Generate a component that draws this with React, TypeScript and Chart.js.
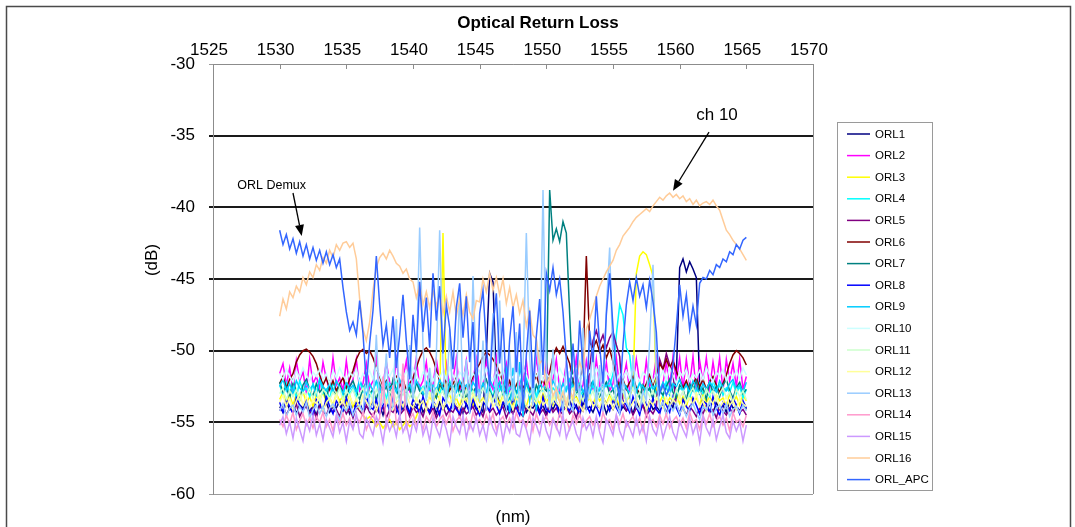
import React, { useEffect, useRef } from "react";
import { Chart, registerables } from "chart.js";

Chart.register(...registerables);

const FONT = "'Liberation Sans', Arial, Helvetica, sans-serif";

// wavelength grid (nm)
const wavelengths = [
  1530, 1530.25, 1530.5, 1530.75, 1531, 1531.25, 1531.5, 1531.75, 1532, 1532.25, 1532.5, 1532.75, 1533, 1533.25, 1533.5, 1533.75, 1534, 1534.25, 1534.5, 1534.75,
  1535, 1535.25, 1535.5, 1535.75, 1536, 1536.25, 1536.5, 1536.75, 1537, 1537.25, 1537.5, 1537.75, 1538, 1538.25, 1538.5, 1538.75, 1539, 1539.25, 1539.5, 1539.75,
  1540, 1540.25, 1540.5, 1540.75, 1541, 1541.25, 1541.5, 1541.75, 1542, 1542.25, 1542.5, 1542.75, 1543, 1543.25, 1543.5, 1543.75, 1544, 1544.25, 1544.5, 1544.75,
  1545, 1545.25, 1545.5, 1545.75, 1546, 1546.25, 1546.5, 1546.75, 1547, 1547.25, 1547.5, 1547.75, 1548, 1548.25, 1548.5, 1548.75, 1549, 1549.25, 1549.5, 1549.75,
  1550, 1550.25, 1550.5, 1550.75, 1551, 1551.25, 1551.5, 1551.75, 1552, 1552.25, 1552.5, 1552.75, 1553, 1553.25, 1553.5, 1553.75, 1554, 1554.25, 1554.5, 1554.75,
  1555, 1555.25, 1555.5, 1555.75, 1556, 1556.25, 1556.5, 1556.75, 1557, 1557.25, 1557.5, 1557.75, 1558, 1558.25, 1558.5, 1558.75, 1559, 1559.25, 1559.5, 1559.75,
  1560, 1560.25, 1560.5, 1560.75, 1561, 1561.25, 1561.5, 1561.75, 1562, 1562.25, 1562.5, 1562.75, 1563, 1563.25, 1563.5, 1563.75, 1564, 1564.25, 1564.5, 1564.75,
  1565,
];

const orl1 = [
  -53.9, -54.3, -53.6, -54.1, -53.7, -54.4, -53.8, -54.0, -53.5, -54.2, -53.9, -54.5, -53.7, -54.1, -53.6, -54.3, -53.9, -54.0, -53.5, -54.2,
  -53.8, -54.4, -53.7, -54.0, -53.6, -54.3, -53.9, -54.1, -53.5, -54.2, -53.8, -54.5, -53.6, -54.0, -53.9, -54.3, -53.7, -54.1, -53.6, -54.4,
  -53.8, -54.0, -53.5, -54.3, -53.9, -54.2, -53.7, -54.4, -53.6, -54.1, -53.8, -54.3, -53.5, -54.0, -53.9, -54.4, -53.7, -54.2, -53.6, -54.1,
  -53.9, -54.3, -50.2, -44.6, -45.2, -52.1, -54.0, -53.6, -54.2, -53.8, -54.4, -53.7, -54.1, -53.5, -54.3, -53.9, -54.0, -53.6, -54.2, -53.8,
  -54.4, -53.7, -54.1, -53.6, -54.3, -53.9, -54.0, -53.5, -54.2, -53.8, -54.5, -53.6, -54.1, -53.9, -54.3, -53.7, -54.0, -53.6, -54.4, -53.8,
  -54.1, -53.5, -54.3, -53.9, -54.2, -53.7, -54.4, -53.6, -54.0, -53.8, -54.3, -53.5, -54.1, -53.9, -54.2, -53.7, -54.4, -53.6, -54.0, -51.8,
  -44.2, -43.6, -44.5, -43.8, -44.3, -44.9, -52.6, -53.9, -54.2, -53.7, -54.4, -53.6, -54.1, -53.8, -54.3, -53.5, -54.0, -53.9, -54.2, -53.7,
  -54.1,
];

const orl2 = [
  -51.6, -50.9, -52.4, -51.2, -52.8, -50.7, -52.1, -51.5, -52.9, -50.6, -52.3, -51.8, -52.6, -50.8, -52.0, -52.7, -50.5, -52.4, -51.9, -52.8,
  -50.7, -52.5, -52.0, -50.6, -52.8, -52.3, -50.9, -52.6, -52.1, -50.5, -52.9, -52.4, -50.8, -52.2, -52.7, -50.6, -52.5, -52.0, -50.7, -52.8,
  -52.3, -50.5, -52.6, -52.1, -50.8, -52.9, -52.4, -50.6, -52.2, -52.7, -50.9, -52.5, -52.0, -50.5, -52.8, -52.3, -50.7, -52.6, -52.1, -50.6,
  -52.9, -52.4, -50.8, -52.2, -52.7, -50.5, -52.5, -52.0, -50.9, -52.8, -52.3, -50.6, -52.6, -52.1, -50.7, -52.9, -52.4, -50.5, -52.2, -52.7,
  -50.8, -52.5, -52.0, -50.6, -52.8, -52.3, -50.9, -52.6, -52.1, -50.5, -52.9, -52.4, -50.7, -52.2, -52.7, -50.6, -52.5, -52.0, -50.8, -52.8,
  -52.3, -50.5, -52.6, -52.1, -50.9, -52.9, -52.4, -50.6, -52.2, -52.7, -50.7, -52.5, -52.0, -50.5, -52.8, -52.3, -50.8, -52.6, -50.4, -52.1,
  -50.5, -52.7, -50.6, -52.4, -50.4, -52.9, -50.7, -52.2, -50.5, -52.6, -50.8, -52.3, -50.5, -52.8, -50.6, -52.1, -50.9, -52.5, -50.6, -52.7,
  -51.8,
];

const orl3 = [
  -53.4, -52.9, -53.6, -53.1, -53.8, -53.0, -53.5, -52.8, -53.7, -53.2, -53.9, -53.1, -53.4, -52.9, -53.6, -53.3, -53.8, -53.0, -53.5, -53.2,
  -53.7, -53.1, -53.9, -53.4, -54.2, -54.5, -54.8, -54.6, -54.9, -55.3, -55.0, -55.4, -55.1, -54.8, -55.3, -55.0, -55.5, -55.2, -54.9, -55.3,
  -55.1, -54.6, -54.0, -53.5, -53.8, -53.2, -53.6, -53.0, -53.4, -41.8, -53.4, -53.1, -53.7, -53.3, -53.9, -53.0, -53.5, -53.2, -53.8, -53.1,
  -53.6, -53.3, -53.9, -53.0, -53.5, -53.2, -53.7, -53.1, -53.6, -53.3, -53.8, -53.0, -53.4, -53.2, -53.9, -53.1, -53.5, -53.3, -53.7, -53.0,
  -53.6, -53.2, -53.8, -53.1, -53.5, -53.3, -53.9, -53.0, -53.4, -53.2, -53.7, -53.1, -53.6, -53.3, -53.8, -53.0, -53.5, -53.2, -53.7, -53.1,
  -53.6, -53.3, -53.9, -53.0, -53.5, -53.2, -52.5, -44.6, -43.4, -43.1, -43.3, -44.0, -44.8, -53.0, -53.6, -53.1, -53.8, -53.3, -53.5, -53.0,
  -53.7, -53.2, -53.9, -53.1, -53.5, -53.3, -53.8, -53.0, -53.6, -53.2, -53.7, -53.1, -53.5, -53.3, -53.9, -53.0, -53.6, -53.2, -53.8, -53.1,
  -53.5,
];

const orl4 = [
  -52.4, -53.1, -52.2, -52.9, -52.5, -53.3, -52.1, -52.8, -52.6, -53.2, -52.3, -52.9, -52.0, -53.0, -52.7, -53.4, -52.2, -52.8, -52.5, -53.1,
  -52.3, -53.0, -52.6, -53.3, -52.1, -52.9, -52.4, -53.2, -52.7, -52.2, -53.0, -52.5, -53.4, -52.3, -52.8, -52.0, -53.1, -52.6, -52.9, -52.4,
  -53.2, -52.1, -52.8, -52.5, -53.3, -52.2, -52.9, -52.6, -53.0, -52.3, -53.4, -52.1, -52.7, -52.4, -53.1, -52.5, -52.8, -52.2, -53.2, -52.6,
  -52.9, -52.3, -53.0, -52.5, -53.3, -52.1, -52.8, -52.4, -53.1, -52.6, -52.2, -53.0, -52.7, -53.4, -52.3, -52.9, -52.5, -53.2, -52.1, -52.8,
  -52.4, -53.1, -52.6, -52.9, -52.2, -53.3, -52.5, -52.8, -52.3, -53.0, -52.7, -53.2, -52.1, -52.9, -52.4, -53.1, -52.6, -52.8, -52.3, -52.5,
  -51.6, -48.9, -46.8, -47.5, -49.8, -50.3, -52.4, -52.9, -52.2, -53.1, -52.6, -52.8, -52.3, -53.0, -52.5, -53.2, -52.1, -52.9, -52.4, -53.1,
  -52.6, -52.8, -52.2, -53.3, -52.5, -52.9, -52.3, -53.0, -52.7, -53.2, -52.1, -52.8, -52.4, -53.1, -52.6, -52.9, -52.2, -53.0, -52.5, -53.3,
  -52.7,
];

const orl5 = [
  -54.2, -53.8, -54.5, -54.0, -54.3, -53.7, -54.6, -54.1, -53.9, -54.4, -54.0, -54.7, -53.8, -54.2, -54.5, -53.9, -54.3, -54.1, -54.6, -53.8,
  -54.4, -54.0, -54.7, -53.9, -54.2, -54.5, -53.8, -54.3, -54.6, -54.0, -54.4, -53.9, -54.7, -54.1, -54.3, -53.8, -54.5, -54.2, -54.0, -54.6,
  -53.9, -54.3, -54.1, -54.6, -53.8, -54.4, -54.0, -54.7, -54.2, -53.9, -54.5, -54.1, -54.3, -53.8, -54.6, -54.0, -54.4, -54.2, -53.9, -54.5,
  -54.1, -54.6, -53.8, -54.3, -54.0, -54.5, -54.2, -53.9, -54.7, -54.1, -54.4, -53.8, -54.3, -54.6, -54.0, -54.2, -54.5, -53.9, -54.4, -54.1,
  -54.6, -53.8, -54.3, -54.0, -54.5, -54.2, -53.9, -54.4, -54.1, -54.7, -53.8, -54.2, -53.5, -51.2, -49.3, -48.6, -49.5, -48.9, -49.8, -49.1,
  -48.7, -49.6, -50.4, -53.6, -54.2, -53.9, -54.5, -54.0, -54.3, -53.8, -54.6, -54.1, -54.4, -53.9, -50.6, -51.3, -50.2, -51.0, -51.6, -53.8,
  -54.3, -54.0, -54.5, -53.9, -54.2, -54.6, -54.0, -54.4, -53.8, -54.3, -54.1, -54.7, -53.9, -54.2, -54.5, -54.0, -54.4, -53.8, -54.3, -54.1,
  -54.5,
];

const orl6 = [
  -52.3, -51.8, -52.6, -52.0, -51.6, -50.8, -50.3, -50.0, -49.9, -50.1, -50.4, -50.9, -51.7, -52.4, -51.9, -52.7, -52.1, -52.8, -52.3, -51.9,
  -52.6, -52.0, -51.4, -50.6, -50.1, -49.9, -50.2, -50.0, -50.5, -51.2, -51.8, -52.5, -52.1, -52.7, -52.2, -51.8, -52.5, -52.0, -52.8, -52.3,
  -51.9, -51.2, -50.5, -50.0, -49.8, -50.1, -50.6, -51.3, -52.1, -52.6, -52.0, -52.8, -52.3, -51.9, -52.6, -52.1, -52.8, -52.4, -51.8, -51.3,
  -50.9, -50.4, -50.1, -50.3, -50.6, -51.0, -51.5, -52.2, -52.7, -52.1, -52.9, -52.4, -51.9, -52.6, -52.2, -52.8, -52.3, -51.7, -52.5, -52.0,
  -52.6, -51.5, -50.4, -49.8, -50.2, -49.7, -50.3, -50.9, -52.1, -52.7, -52.2, -51.0, -43.4, -49.4, -49.8, -49.3, -50.1, -49.6, -50.5, -49.9,
  -50.8, -51.9, -52.5, -52.0, -52.7, -52.2, -51.8, -52.6, -53.0, -52.8, -52.3, -51.7, -52.4, -51.6, -50.9, -51.3, -50.6, -51.2, -50.7, -51.4,
  -52.0, -52.6, -52.1, -52.8, -52.3, -51.9, -52.5, -52.0, -52.7, -52.2, -51.8, -52.4, -52.9, -52.3, -51.7, -50.9, -50.3, -50.0, -50.2, -50.5,
  -51.0,
];

const orl7 = [
  -52.2, -52.9, -52.5, -53.3, -52.1, -52.8, -53.4, -52.4, -52.0, -52.7, -53.2, -52.3, -52.9, -52.6, -53.5, -52.2, -52.8, -53.1, -52.4, -52.9,
  -53.3, -52.5, -52.1, -52.8, -53.4, -52.6, -52.2, -53.0, -52.7, -53.5, -52.3, -52.9, -52.5, -53.2, -52.0, -52.7, -53.3, -52.4, -52.9, -52.6,
  -53.4, -52.2, -52.8, -53.1, -52.5, -52.0, -52.9, -53.3, -52.4, -52.7, -53.5, -52.3, -52.8, -52.1, -53.0, -52.6, -53.4, -52.2, -52.9, -52.5,
  -53.2, -52.4, -52.0, -52.8, -53.3, -52.6, -52.2, -53.1, -52.7, -53.5, -52.3, -52.9, -52.5, -53.0, -52.1, -52.8, -53.4, -52.4, -52.9, -52.6,
  -52.8, -38.8, -42.3, -41.5, -42.4, -41.0, -41.8, -47.5, -52.6, -53.1, -52.3, -52.9, -53.4, -52.5, -52.1, -52.8, -53.2, -52.6, -52.2, -53.0,
  -52.7, -53.5, -52.3, -52.9, -52.5, -53.2, -52.0, -52.7, -53.3, -52.4, -52.9, -52.6, -53.4, -52.2, -52.8, -53.1, -52.5, -52.0, -52.9, -53.3,
  -52.4, -52.7, -53.5, -52.3, -52.8, -52.1, -53.0, -52.6, -53.4, -52.2, -52.9, -52.5, -53.2, -52.4, -52.0, -52.8, -53.3, -52.6, -52.2, -53.0,
  -52.7,
];

const orl8 = [
  -53.6, -54.3, -53.4, -53.9, -54.4, -53.3, -53.8, -54.2, -53.5, -54.0, -54.5, -53.4, -53.7, -54.3, -53.2, -53.9, -54.4, -53.5, -53.8, -54.2,
  -53.3, -54.0, -54.5, -53.6, -53.7, -54.3, -53.2, -53.9, -54.1, -53.4, -54.4, -53.8, -53.5, -54.2, -53.3, -54.0, -54.5, -53.6, -53.9, -54.3,
  -53.4, -53.8, -54.4, -53.2, -54.0, -54.3, -53.5, -53.9, -54.5, -53.3, -53.7, -54.2, -53.6, -54.1, -54.4, -53.3, -53.8, -54.3, -53.4, -54.0,
  -54.5, -53.5, -53.9, -54.2, -53.2, -53.8, -54.4, -53.6, -53.7, -54.3, -53.3, -54.0, -54.5, -53.4, -53.9, -54.2, -53.5, -53.8, -54.4, -53.2,
  -54.1, -54.3, -53.4, -53.7, -54.5, -53.3, -53.9, -54.2, -53.5, -54.0, -54.4, -53.2, -53.8, -54.3, -53.6, -53.9, -54.5, -53.3, -53.7, -54.2,
  -53.4, -54.0, -54.4, -53.5, -53.8, -54.3, -53.2, -53.9, -54.5, -53.4, -53.7, -54.2, -53.3, -54.1, -54.4, -53.5, -53.8, -54.3, -53.2, -54.0,
  -54.5, -53.4, -53.9, -54.2, -53.3, -53.8, -54.4, -53.5, -53.7, -54.3, -53.2, -54.0, -54.5, -53.6, -53.9, -54.2, -53.3, -53.8, -54.4, -53.5,
  -54.0,
];

const orl9 = [
  -52.5, -52.0, -52.8, -52.3, -53.0, -52.1, -52.6, -52.9, -52.2, -52.7, -52.4, -53.1, -52.0, -52.5, -52.8, -52.3, -52.9, -52.1, -52.6, -53.0,
  -52.2, -52.7, -52.4, -52.9, -52.0, -52.6, -53.1, -52.3, -52.8, -52.1, -52.5, -53.0, -52.2, -52.7, -52.4, -52.9, -52.0, -52.6, -52.8, -52.3,
  -52.9, -52.1, -52.5, -53.0, -52.2, -52.7, -52.4, -52.8, -52.0, -52.6, -53.1, -52.3, -52.5, -52.9, -52.1, -52.7, -52.4, -53.0, -52.2, -52.6,
  -52.8, -52.3, -52.9, -52.0, -52.5, -52.7, -52.2, -53.0, -51.4, -54.3, -51.2, -53.9, -50.8, -54.6, -51.6, -53.5, -51.9, -54.1, -52.2, -52.7,
  -52.4, -52.9, -52.1, -52.6, -53.0, -52.3, -52.8, -52.0, -52.5, -52.7, -52.2, -52.9, -52.4, -53.1, -52.1, -52.6, -52.8, -52.3, -52.5, -52.0,
  -52.7, -52.4, -52.9, -52.2, -52.6, -53.0, -52.1, -52.8, -52.3, -52.5, -52.9, -52.0, -52.7, -52.4, -52.8, -52.2, -52.6, -53.1, -52.3, -52.5,
  -52.0, -52.8, -52.4, -52.9, -52.1, -52.6, -53.0, -52.3, -52.7, -52.2, -52.5, -52.9, -52.1, -52.6, -52.8, -52.3, -52.0, -52.7, -52.4, -52.9,
  -52.2,
];

const orl10 = [
  -51.6, -52.0, -51.3, -51.8, -52.2, -51.4, -51.9, -51.2, -51.7, -52.1, -51.5, -51.8, -51.3, -52.0, -51.6, -52.3, -51.4, -51.9, -51.2, -51.7,
  -52.1, -51.5, -51.8, -51.3, -52.2, -51.6, -51.9, -51.4, -52.0, -51.2, -51.7, -52.3, -51.5, -51.8, -51.3, -52.1, -51.6, -51.9, -51.4, -52.0,
  -51.2, -51.7, -52.2, -51.5, -51.8, -51.3, -52.1, -51.6, -51.9, -51.4, -52.0, -51.2, -51.7, -52.3, -51.5, -51.8, -51.3, -52.2, -51.6, -51.9,
  -51.4, -52.0, -51.2, -51.7, -52.1, -51.5, -51.8, -51.3, -52.2, -51.6, -51.9, -51.4, -52.0, -51.2, -51.7, -52.3, -51.5, -51.8, -51.3, -52.1,
  -51.6, -51.9, -51.4, -52.0, -51.2, -51.7, -52.2, -51.5, -51.8, -51.3, -52.1, -51.6, -51.9, -51.4, -52.0, -51.2, -51.7, -52.3, -51.5, -51.8,
  -51.3, -52.2, -51.6, -51.9, -51.4, -52.0, -51.2, -51.7, -52.1, -51.5, -51.8, -51.3, -52.2, -51.6, -51.9, -51.4, -52.0, -51.2, -51.7, -52.3,
  -51.5, -51.8, -51.3, -52.1, -51.6, -51.9, -51.4, -52.0, -51.2, -51.7, -52.2, -51.5, -51.8, -51.3, -52.1, -51.6, -51.9, -51.4, -52.0, -51.2,
  -51.7,
];

const orl11 = [
  -53.0, -52.6, -53.4, -52.8, -53.2, -52.7, -53.5, -52.9, -53.1, -52.6, -53.3, -52.8, -53.6, -52.7, -53.0, -53.4, -52.9, -53.2, -52.6, -53.5,
  -52.8, -53.1, -52.7, -53.4, -53.0, -52.6, -53.3, -52.9, -53.5, -52.7, -53.2, -52.8, -53.6, -53.0, -52.6, -53.4, -52.9, -53.1, -52.7, -53.3,
  -52.8, -53.5, -53.0, -52.6, -53.2, -52.9, -53.4, -52.7, -53.1, -52.8, -53.6, -53.0, -52.6, -53.3, -52.9, -53.5, -52.7, -53.2, -52.8, -53.4,
  -53.0, -52.6, -53.1, -52.9, -53.5, -52.7, -53.3, -52.8, -53.6, -53.0, -52.6, -53.2, -52.9, -53.4, -52.7, -53.1, -52.8, -53.5, -53.0, -52.6,
  -53.3, -52.9, -53.6, -52.7, -53.2, -52.8, -53.4, -53.0, -52.6, -53.1, -52.9, -53.5, -52.7, -53.3, -52.8, -53.6, -53.0, -52.6, -53.2, -52.9,
  -53.4, -52.7, -53.1, -52.8, -53.5, -53.0, -52.6, -53.3, -52.9, -53.6, -52.7, -53.2, -52.8, -53.4, -53.0, -52.6, -53.1, -52.9, -53.5, -52.7,
  -53.3, -52.8, -53.6, -53.0, -52.6, -53.2, -52.9, -53.4, -52.7, -53.1, -52.8, -53.5, -53.0, -52.6, -53.3, -52.9, -53.6, -52.7, -53.2, -52.8,
  -53.4,
];

const orl12 = [
  -53.6, -53.1, -53.9, -53.3, -54.1, -53.5, -53.0, -53.8, -53.2, -54.0, -53.4, -53.7, -53.1, -54.2, -53.6, -53.3, -53.9, -53.0, -53.8, -53.5,
  -54.1, -53.2, -53.7, -53.4, -54.0, -53.1, -53.6, -53.9, -53.3, -54.2, -53.5, -53.0, -53.8, -53.2, -54.1, -53.6, -53.4, -53.9, -53.1, -53.7,
  -54.0, -53.3, -53.8, -53.5, -54.2, -53.0, -53.6, -53.9, -53.2, -54.1, -53.4, -53.7, -53.1, -53.8, -54.0, -53.5, -53.3, -53.9, -53.0, -53.6,
  -54.2, -53.4, -53.7, -53.1, -53.9, -53.6, -54.0, -53.2, -53.8, -53.5, -54.1, -53.3, -53.6, -53.0, -53.9, -54.2, -53.4, -53.7, -53.1, -53.8,
  -53.5, -54.0, -53.2, -53.6, -53.9, -53.3, -54.1, -53.0, -53.7, -53.4, -53.8, -54.2, -53.5, -53.1, -53.9, -53.6, -54.0, -53.2, -53.8, -53.3,
  -54.1, -53.5, -53.0, -53.7, -53.4, -54.0, -53.6, -53.2, -53.9, -53.1, -54.2, -53.5, -53.8, -53.3, -53.6, -54.0, -53.2, -53.9, -53.4, -53.7,
  -53.1, -54.1, -53.6, -53.3, -53.8, -53.0, -53.9, -53.5, -54.2, -53.4, -53.7, -53.1, -54.0, -53.6, -53.2, -53.8, -53.5, -54.1, -53.3, -53.7,
  -53.9,
];

const orl13 = [
  -54.2, -53.7, -54.6, -54.0, -53.8, -54.5, -53.9, -54.3, -53.6, -54.7, -54.1, -53.8, -54.4, -53.9, -54.6, -54.0, -53.7, -54.3, -54.8, -53.9,
  -54.2, -53.6, -54.5, -54.0, -53.8, -54.4, -51.5, -54.1, -53.7, -48.9, -54.0, -53.6, -50.2, -54.3, -53.9, -47.8, -54.5, -52.1, -53.8, -49.6,
  -53.4, -50.8, -41.4, -49.7, -53.5, -51.2, -54.0, -50.4, -41.6, -50.9, -53.7, -48.5, -54.1, -52.3, -46.0, -53.2, -50.6, -54.4, -44.8, -52.0,
  -53.6, -49.3, -54.2, -51.8, -47.4, -53.9, -46.5, -52.7, -54.0, -50.1, -53.5, -48.7, -54.3, -51.4, -41.8, -50.5, -53.8, -49.2, -52.4, -38.8,
  -51.6, -54.1, -49.9, -53.4, -52.2, -54.5, -50.7, -53.8, -54.2, -51.3, -53.6, -48.4, -54.0, -52.6, -49.8, -53.9, -51.0, -54.3, -47.1, -42.8,
  -50.9, -53.7, -54.4, -52.0, -53.6, -54.1, -50.3, -53.9, -54.2, -52.8, -53.5, -49.4, -44.0, -51.7, -54.0, -53.6, -54.5, -53.8, -54.2, -53.7,
  -54.4, -53.9, -54.6, -54.0, -53.7, -54.3, -54.8, -53.9, -54.1, -53.6, -54.5, -54.0, -53.8, -54.4, -53.7, -54.6, -54.1, -53.9, -54.3, -53.8,
  -54.2,
];

const orl14 = [
  -54.8, -55.3, -54.5, -55.1, -54.3, -55.5, -54.9, -54.4, -55.2, -54.7, -55.4, -54.6, -55.0, -54.3, -55.3, -54.8, -55.6, -54.5, -55.1, -54.4,
  -55.2, -54.7, -55.4, -54.6, -55.0, -54.3, -55.5, -54.9, -54.4, -55.2, -54.7, -51.8, -55.3, -54.5, -52.4, -55.1, -54.6, -50.9, -55.4, -54.8,
  -54.4, -55.2, -54.7, -55.5, -54.6, -55.0, -54.3, -55.3, -54.8, -54.5, -55.1, -54.4, -55.6, -54.9, -54.6, -55.2, -54.7, -55.4, -54.3, -55.0,
  -54.8, -55.3, -54.5, -55.1, -54.4, -55.5, -54.9, -54.6, -55.2, -54.7, -55.4, -54.3, -55.0, -54.8, -55.3, -54.5, -55.6, -54.4, -55.1, -54.9,
  -54.6, -55.2, -54.7, -55.4, -54.3, -55.0, -54.8, -55.5, -54.5, -55.1, -54.4, -55.3, -54.9, -54.6, -55.2, -54.7, -55.4, -54.3, -55.0, -54.8,
  -55.5, -54.5, -55.1, -54.4, -55.3, -54.9, -54.6, -55.2, -54.7, -55.6, -54.3, -55.0, -54.8, -55.3, -54.5, -55.1, -54.4, -55.4, -54.9, -54.6,
  -55.2, -54.7, -55.4, -54.3, -55.0, -54.8, -55.5, -54.5, -55.1, -54.4, -55.3, -54.9, -54.6, -55.2, -54.7, -55.6, -54.3, -55.0, -54.8, -55.3,
  -54.5,
];

const orl15 = [
  -55.2, -54.6, -55.8, -55.0, -56.1, -54.7, -55.5, -56.3, -54.9, -55.6, -54.5, -55.9, -55.1, -56.2, -54.8, -55.4, -56.0, -54.6, -55.7, -55.0,
  -56.3, -54.9, -55.5, -54.4, -55.8, -56.1, -54.7, -55.3, -55.9, -54.6, -55.2, -56.4, -54.8, -55.6, -55.0, -56.0, -54.5, -55.7, -55.1, -56.2,
  -54.9, -55.6, -54.4, -55.9, -55.2, -56.3, -54.7, -55.4, -56.0, -54.8, -55.5, -56.5, -54.6, -55.3, -55.8, -54.5, -56.1, -55.0, -55.6, -54.7,
  -55.9, -55.2, -56.2, -54.6, -55.4, -55.9, -54.8, -56.3, -55.1, -55.7, -54.5, -55.8, -56.0, -54.9, -55.5, -56.4, -54.7, -55.2, -55.9, -54.6,
  -55.6, -56.2, -54.8, -55.3, -55.9, -54.5, -56.1, -55.4, -54.9, -55.8, -56.3, -54.7, -55.5, -55.0, -56.0, -54.6, -55.7, -56.4, -54.8, -55.3,
  -55.9, -54.5, -55.6, -56.2, -54.9, -55.4, -56.0, -54.7, -55.8, -55.2, -56.3, -54.6, -55.5, -55.9, -54.8, -56.1, -55.3, -54.6, -55.7, -56.2,
  -54.9, -55.5, -56.0, -54.7, -55.8, -55.1, -56.4, -54.6, -55.4, -55.9, -54.8, -56.2, -55.3, -54.5, -55.7, -56.1, -54.9, -55.6, -55.0, -56.3,
  -55.2,
];

const orl16 = [
  -47.6, -46.4, -47.1, -45.9, -46.3, -45.5, -45.9, -44.9, -45.4, -44.5, -44.9, -44.0, -44.4, -43.5, -43.9, -43.0, -43.5, -42.6, -43.0, -42.5,
  -42.4, -42.8, -42.5, -43.6, -46.4, -48.5, -49.3, -48.0, -45.8, -44.2, -43.5, -43.2, -43.6, -43.0, -43.4, -43.9, -44.1, -44.6, -44.3, -45.0,
  -45.2, -46.3, -45.4, -46.8, -45.9, -47.0, -45.8, -46.9, -46.0, -47.4, -46.2, -47.3, -45.9, -47.6, -46.4, -47.5, -46.1, -47.3, -47.8, -46.5,
  -46.6, -45.0, -45.9, -44.6, -45.8, -44.9, -46.1, -45.0, -46.7, -45.6, -47.0, -46.1, -47.4, -46.5, -48.3, -47.2, -48.9, -49.2, -50.9, -50.6,
  -52.5, -51.8, -53.2, -52.6, -53.6, -52.9, -53.8, -52.7, -53.3, -51.9, -50.8, -51.5, -48.5, -47.8, -47.0, -46.2, -45.5, -45.0, -44.5, -44.1,
  -43.7, -43.0, -42.6, -42.0, -41.7, -41.4, -41.0, -40.7, -40.5, -40.3, -40.1, -40.3, -39.9, -39.6, -39.3, -39.5, -39.2, -39.0, -39.3, -39.1,
  -39.4, -39.2, -39.6, -39.4, -39.8, -39.5, -39.9, -39.7, -39.6, -39.8, -39.5, -39.9, -40.2, -40.9, -41.6, -41.9, -42.3, -42.6, -42.9, -43.3,
  -43.7,
];

const orlApc = [
  -41.6, -42.6, -41.9, -42.9, -42.2, -43.2, -42.4, -43.4, -42.6, -43.6, -42.8, -43.7, -43.0, -43.9, -43.1, -44.0, -43.3, -44.2, -43.6, -45.6,
  -47.3, -48.6, -48.0, -48.9, -46.5, -48.8, -52.4, -49.5, -47.2, -43.4, -46.8, -49.6, -48.2, -50.5, -47.6, -51.2, -48.9, -46.1, -49.3, -52.0,
  -47.5, -50.1, -45.2, -48.7, -46.3, -49.8, -44.6, -47.9, -45.5, -50.2, -46.8, -48.4, -51.3, -47.0, -45.3, -49.1, -46.2, -50.8, -48.0, -53.2,
  -47.4, -45.8, -49.6, -52.5, -48.3, -46.0, -50.9, -47.7, -53.0, -49.2, -46.9, -51.5, -48.1, -54.2, -50.3, -47.2, -52.6, -49.0, -46.4, -51.7,
  -44.6, -45.8, -44.2, -46.1, -45.0, -47.3, -50.6, -53.4, -49.5, -52.8, -47.9, -51.2, -54.0, -48.6, -50.8, -46.2, -49.7, -52.3, -47.5, -44.6,
  -48.4, -51.9, -53.5, -49.6, -46.8, -45.2, -46.5, -44.9, -46.2, -45.4, -47.0, -45.1, -46.6, -48.7, -53.0, -52.4, -53.1, -52.6, -51.0, -48.3,
  -45.4, -47.6, -46.1, -48.5, -46.9, -48.2, -45.3, -44.9, -45.0, -44.4, -44.7, -44.0, -44.2, -43.6, -43.8, -43.1, -43.3, -42.6, -42.9, -42.3,
  -42.1,
];

const seriesNames = [
  "ORL1", "ORL2", "ORL3", "ORL4", "ORL5", "ORL6", "ORL7", "ORL8", "ORL9",
  "ORL10", "ORL11", "ORL12", "ORL13", "ORL14", "ORL15", "ORL16", "ORL_APC",
];
const seriesValues = [
  orl1, orl2, orl3, orl4, orl5, orl6, orl7, orl8, orl9,
  orl10, orl11, orl12, orl13, orl14, orl15, orl16, orlApc,
];
const seriesColors = [
  "#000080", "#FF00FF", "#FFFF00", "#00FFFF", "#800080", "#800000", "#008080", "#0000FF", "#00CCFF",
  "#CCFFFF", "#CCFFCC", "#FFFF99", "#99CCFF", "#FF99CC", "#CC99FF", "#FFCC99", "#3366FF",
];

const xTickValues = [1525, 1530, 1535, 1540, 1545, 1550, 1555, 1560, 1565, 1570];
const yTickValues = [-30, -35, -40, -45, -50, -55, -60];

const titleText = "Optical Return Loss";
const xTitle = "(nm)";
const yTitle = "(dB)";
const annotations = [
  { text: "ORL Demux", at: [1529.4, -38.45], from: [1531.0, -39.0], to: [1531.65, -42.0], size: 12.5 },
  { text: "ch 10", at: [1562.8, -33.6], from: [1562.2, -34.75], to: [1559.5, -38.85], size: 17 },
];

function drawArrow(ctx: CanvasRenderingContext2D, x1: number, y1: number, x2: number, y2: number) {
  const ang = Math.atan2(y2 - y1, x2 - x1);
  const head = 11;
  const hw = 4.5;
  const bx = x2 - head * Math.cos(ang);
  const by = y2 - head * Math.sin(ang);
  ctx.beginPath();
  ctx.moveTo(x1, y1);
  ctx.lineTo(bx, by);
  ctx.stroke();
  ctx.beginPath();
  ctx.moveTo(x2, y2);
  ctx.lineTo(bx + hw * Math.sin(ang), by - hw * Math.cos(ang));
  ctx.lineTo(bx - hw * Math.sin(ang), by + hw * Math.cos(ang));
  ctx.closePath();
  ctx.fill();
}

const decorPlugin = {
  id: "decor",
  beforeDraw(chart: any) {
    const { ctx, width, height } = chart;
    ctx.save();
    ctx.fillStyle = "#ffffff";
    ctx.fillRect(0, 0, width, height);
    ctx.restore();
  },
  afterDraw(chart: any) {
    const { ctx, chartArea: a, scales } = chart;
    const xs = scales.x;
    const ys = scales.y;
    ctx.save();

    // right border of the plot and inner tick marks of the top axis
    ctx.strokeStyle = "#8c8c8c";
    ctx.lineWidth = 1;
    ctx.beginPath();
    ctx.moveTo(a.right + 0.5, a.top);
    ctx.lineTo(a.right + 0.5, a.bottom);
    for (const t of xTickValues) {
      const px = Math.round(xs.getPixelForValue(t)) + 0.5;
      ctx.moveTo(px, a.top);
      ctx.lineTo(px, a.top + 5);
    }
    ctx.stroke();

    // title and axis titles
    ctx.fillStyle = "#000";
    ctx.textAlign = "center";
    ctx.textBaseline = "middle";
    ctx.font = `bold 17px ${FONT}`;
    ctx.fillText(titleText, 538, 23);
    ctx.font = `17px ${FONT}`;
    ctx.fillText(xTitle, (a.left + a.right) / 2, 517);
    ctx.save();
    ctx.translate(152, 260);
    ctx.rotate(-Math.PI / 2);
    ctx.fillText(yTitle, 0, 0);
    ctx.restore();

    // annotations
    ctx.strokeStyle = "#000";
    ctx.fillStyle = "#000";
    ctx.lineWidth = 1.3;
    for (const an of annotations) {
      ctx.font = `${an.size}px ${FONT}`;
      ctx.fillText(an.text, xs.getPixelForValue(an.at[0]), ys.getPixelForValue(an.at[1]));
      drawArrow(
        ctx,
        xs.getPixelForValue(an.from[0]), ys.getPixelForValue(an.from[1]),
        xs.getPixelForValue(an.to[0]), ys.getPixelForValue(an.to[1])
      );
    }

    // legend
    const lx = 837, ly = 122, lw = 95, lh = 368;
    ctx.fillStyle = "#fff";
    ctx.fillRect(lx, ly, lw, lh);
    ctx.strokeStyle = "#9a9a9a";
    ctx.lineWidth = 1;
    ctx.strokeRect(lx + 0.5, ly + 0.5, lw, lh);
    ctx.textAlign = "left";
    ctx.font = `11.5px ${FONT}`;
    chart.data.datasets.forEach((ds: any, k: number) => {
      const y = 134 + k * 21.6;
      ctx.strokeStyle = ds.borderColor;
      ctx.lineWidth = 1.5;
      ctx.beginPath();
      ctx.moveTo(lx + 10, y);
      ctx.lineTo(lx + 33, y);
      ctx.stroke();
      ctx.fillStyle = "#000";
      ctx.fillText(ds.label, lx + 38, y + 0.5);
    });

    // outer frame
    ctx.strokeStyle = "#4a4a4a";
    ctx.lineWidth = 1.5;
    ctx.beginPath();
    ctx.moveTo(6.5, 527);
    ctx.lineTo(6.5, 6.5);
    ctx.lineTo(1070.5, 6.5);
    ctx.lineTo(1070.5, 527);
    ctx.stroke();

    ctx.restore();
  },
};

export default function App() {
  const canvasRef = useRef<HTMLCanvasElement>(null);
  const bad = seriesValues.some((s) => s.length !== wavelengths.length);

  useEffect(() => {
    if (!canvasRef.current) return;
    const datasets = seriesValues.map((vals, i) => ({
      label: seriesNames[i],
      data: vals.map((y, j) => ({ x: wavelengths[j], y })),
      borderColor: seriesColors[i],
      backgroundColor: seriesColors[i],
      borderWidth: 1.5,
      pointRadius: 0,
      fill: false,
      tension: 0,
      order: seriesValues.length - 1 - i,
    }));
    const chart = new Chart(canvasRef.current, {
      type: "line",
      data: { datasets },
      options: {
        responsive: false,
        animation: false,
        devicePixelRatio: 1,
        layout: { padding: { left: 0, top: 0, right: 262, bottom: 33 } },
        plugins: {
          legend: { display: false },
          title: { display: false },
          tooltip: { enabled: false },
        },
        scales: {
          x: {
            type: "linear",
            position: "top",
            min: 1525,
            max: 1570,
            afterFit: (s: any) => { s.height = 64; },
            afterBuildTicks: (s: any) => { s.ticks = xTickValues.map((v) => ({ value: v })); },
            ticks: {
              color: "#000",
              font: { size: 17, family: FONT },
              padding: 3,
              labelOffset: -4,
              maxRotation: 0,
              autoSkip: false,
              callback: (v: any) => String(v),
            },
            grid: { display: true, drawOnChartArea: false, drawTicks: false },
            border: { display: true, color: "#8c8c8c", width: 1 },
          },
          y: {
            type: "linear",
            min: -60,
            max: -30,
            afterFit: (s: any) => { s.width = 213; },
            afterBuildTicks: (s: any) => { s.ticks = yTickValues.map((v) => ({ value: v })); },
            ticks: {
              color: "#000",
              font: { size: 17, family: FONT },
              padding: 14,
              callback: (v: any) => String(v),
            },
            grid: {
              color: (c: any) => (c.tick && (c.tick.value === -30 || c.tick.value === -60) ? "#9a9a9a" : "#1a1a1a"),
              lineWidth: (c: any) => (c.tick && (c.tick.value === -30 || c.tick.value === -60) ? 1 : 2),
              drawTicks: true,
              tickLength: 4,
            },
            border: { display: true, color: "#8c8c8c", width: 1 },
          },
        },
      } as any,
      plugins: [decorPlugin],
    });
    return () => chart.destroy();
  }, []);

  return (
    <div style={{ position: "absolute", left: 0, top: 0, width: 1075, height: 527, background: "#fff" }}>
      <canvas ref={canvasRef} width={1075} height={527} style={{ display: "block", width: 1075, height: 527 }} />
      {bad ? <div style={{ position: "absolute", left: 10, top: 10, color: "red" }}>LENGTH MISMATCH</div> : null}
    </div>
  );
}
